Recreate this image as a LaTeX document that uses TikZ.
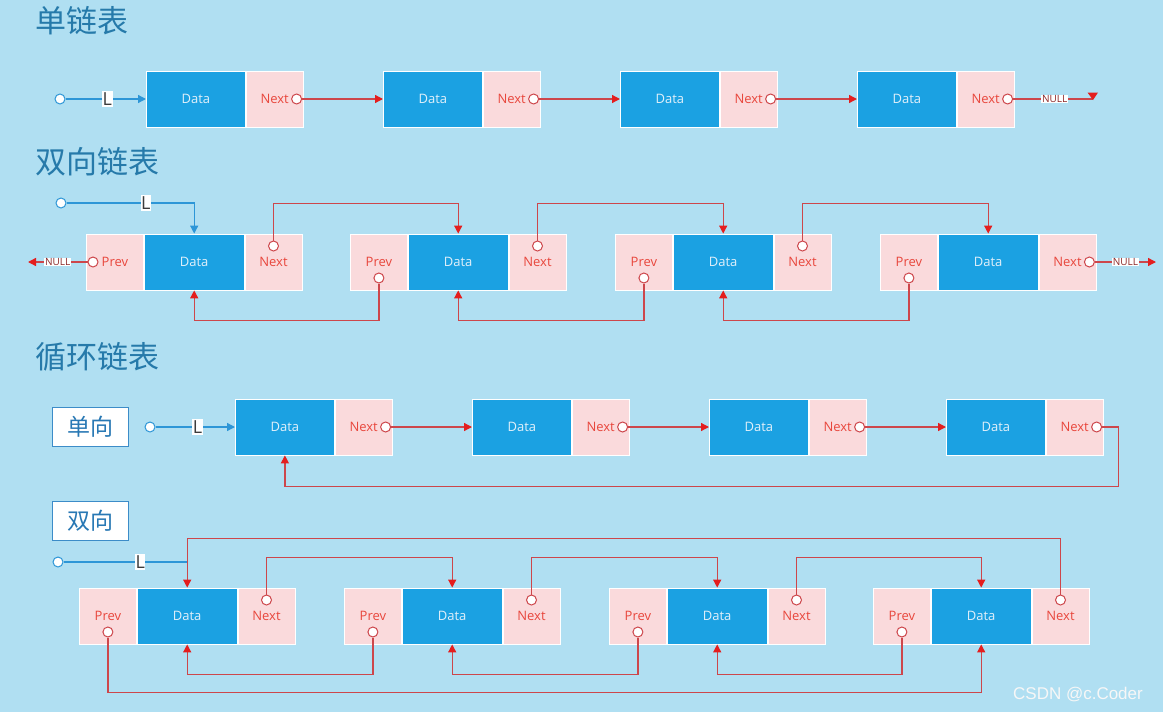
\documentclass[tikz,border=0pt]{standalone}
\usepackage{fontspec}
\setmainfont{Open Sans}
\newfontfamily\cjk{Noto Sans CJK SC}
\newfontfamily\wmfont{Liberation Sans}
\usetikzlibrary{arrows.meta}
\definecolor{bg}{RGB}{176,223,242}
\definecolor{datablue}{RGB}{27,161,226}
\definecolor{cellpink}{RGB}{250,218,220}
\definecolor{ptrred}{RGB}{232,70,60}
\definecolor{datatext}{RGB}{225,240,250}
\definecolor{linered}{RGB}{205,70,75}
\definecolor{tipred}{RGB}{228,30,30}
\definecolor{lineblue}{RGB}{45,150,215}
\definecolor{titleblue}{RGB}{38,122,170}
\definecolor{tagblue}{RGB}{60,140,200}
\definecolor{tagtext}{RGB}{40,120,180}
\definecolor{nullred}{RGB}{140,40,40}
\definecolor{labgray}{RGB}{60,60,60}
\tikzset{
  cellbase/.style={draw=white, line width=0.8pt, minimum height=56pt, inner sep=0pt, anchor=west, font=\fontsize{13}{15}\selectfont},
  datacell/.style={cellbase, fill=datablue, text=datatext, minimum width=99pt},
  ptrcell/.style={cellbase, fill=cellpink, text=ptrred, minimum width=57pt},
  rdot/.style={circle, draw=linered, fill=white, line width=1pt, minimum size=10pt, inner sep=0pt},
  bdot/.style={circle, draw=lineblue, fill=white, line width=1pt, minimum size=10pt, inner sep=0pt},
  rline/.style={draw=linered, line width=1.3pt},
  rarrow/.style={rline, -{Triangle[length=8pt,width=8pt,color=tipred]}},
  bline/.style={draw=lineblue, line width=1.3pt},
  barrow/.style={bline, -{Triangle[length=8pt,width=8pt]}},
  lab/.style={fill=white, inner xsep=0.5pt, inner ysep=2pt, text=labgray, font=\fontsize{18}{20}\selectfont},
  nulllab/.style={fill=white, inner sep=0.8pt, text=nullred, font=\fontsize{10}{11}\selectfont},
  sectitle/.style={anchor=west, text=titleblue, inner sep=0pt, font=\cjk\fontsize{31}{36}\selectfont},
  tagbox/.style={draw=tagblue, fill=white, line width=1pt, minimum width=76pt, minimum height=39pt, text=tagtext, font=\cjk\fontsize{23}{26}\selectfont},
  wmark/.style={text=white!94!gray, font=\wmfont\fontsize{17}{19}\selectfont}
}
\begin{document}
\begin{tikzpicture}[x=1pt,y=-1pt]
\fill[bg] (0,0) rectangle (1163,712);
\useasboundingbox (0,0) rectangle (1163,712);

% titles
\node[sectitle] (h1) at (35,21) {单链表};
\node[sectitle] (h2) at (35,162) {双向链表};
\node[sectitle] (h3) at (35,357) {循环链表};

% ---------- row 1: singly linked ----------
\foreach \i/\x in {1/146,2/383,3/620,4/857} {
  \node[datacell] (d1\i) at (\x,99) {Data};
  \node[ptrcell] (n1\i) at (d1\i.east) {Next};
  \node[rdot] (c1\i) at ([xshift=-7pt]n1\i.east) {};
}
\foreach \i/\j in {1/2,2/3,3/4} {
  \draw[rarrow] (c1\i) -- (d1\j.west);
}
\node[bdot] (b1) at (60,99) {};
\draw[barrow] (b1) -- node[lab,pos=0.52]{L} (d11.west);
\coordinate (e1) at (1093,99);
\draw[rline] (c14) -- node[nulllab,pos=0.52]{NULL} (e1);
\fill[tipred] (1087.5,92.5) -- (1098,92.5) -- (1093,100) -- cycle;

% ---------- row 2: doubly linked ----------
\foreach \i/\x in {1/86,2/350,3/615,4/880} {
  \node[ptrcell] (p2\i) at (\x,262) {Prev};
  \node[datacell, minimum width=100pt] (d2\i) at (p2\i.east) {Data};
  \node[ptrcell] (n2\i) at (d2\i.east) {Next};
}
\node[rdot] (cp21) at ([xshift=7pt]p21.west) {};
\foreach \i in {2,3,4} { \node[rdot] (cp2\i) at ([yshift=-16pt]p2\i.center) {}; }
\foreach \i in {1,2,3} { \node[rdot] (cn2\i) at ([yshift=16pt]n2\i.center) {}; }
\node[rdot] (cn24) at ([xshift=-7pt]n24.east) {};
\foreach \i/\j in {1/2,2/3,3/4} {
  \draw[rarrow] (cn2\i) |- ([yshift=30pt]d2\j.north) -- (d2\j.north);
  \draw[rarrow] (cp2\j) |- ([yshift=-30pt]d2\i.south) -- (d2\i.south);
}
\node[bdot] (b2) at (61,203) {};
\draw[barrow] (b2) -| node[lab,pos=0.31]{L} (d21.north);
\coordinate (e2l) at (28,262);
\coordinate (e2r) at (1156,262);
\draw[rarrow] (cp21) -- node[nulllab,pos=0.5]{NULL} (e2l);
\draw[rarrow] (cn24) -- node[nulllab,pos=0.5]{NULL} (e2r);

% ---------- row 3: circular singly ----------
\node[tagbox] (t1) at (90,427) {单向};
\foreach \i/\x in {1/235,2/472,3/709,4/946} {
  \node[datacell] (d3\i) at (\x,427) {Data};
  \node[ptrcell] (n3\i) at (d3\i.east) {Next};
  \node[rdot] (c3\i) at ([xshift=-7pt]n3\i.east) {};
}
\foreach \i/\j in {1/2,2/3,3/4} {
  \draw[rarrow] (c3\i) -- (d3\j.west);
}
\draw[rarrow] (c34) -- ([xshift=22pt]c34.center) |- ([yshift=-31pt]d31.south) -- (d31.south);
\node[bdot] (b3) at (150,427) {};
\draw[barrow] (b3) -- node[lab,pos=0.53]{L} (d31.west);

% ---------- row 4: circular doubly ----------
\node[tagbox] (t2) at (90,521) {双向};
\foreach \i/\x in {1/79,2/344,3/609,4/873} {
  \node[ptrcell] (p4\i) at (\x,616) {Prev};
  \node[datacell, minimum width=100pt] (d4\i) at (p4\i.east) {Data};
  \node[ptrcell] (n4\i) at (d4\i.east) {Next};
  \node[rdot] (cp4\i) at ([yshift=-16pt]p4\i.center) {};
  \node[rdot] (cn4\i) at ([yshift=16pt]n4\i.center) {};
}
\node[bdot] (b4) at (58,562) {};
\draw[bline] (b4) -- node[lab,pos=0.62]{L} (b4 -| d41.north);
\foreach \i/\j in {1/2,2/3,3/4} {
  \draw[rarrow] (cn4\i) |- ([yshift=30pt]d4\j.north) -- (d4\j.north);
  \draw[rarrow] (cp4\j) |- ([yshift=-30pt]d4\i.south) -- (d4\i.south);
}
\draw[rarrow] (cn44) |- ([yshift=49pt]d41.north) -- (d41.north);
\draw[rarrow] (cp41) |- ([yshift=-48pt]d44.south) -- (d44.south);

% watermark
\node[wmark] (wm) at (1078,695) {CSDN @c.Coder};
\end{tikzpicture}
\end{document}
